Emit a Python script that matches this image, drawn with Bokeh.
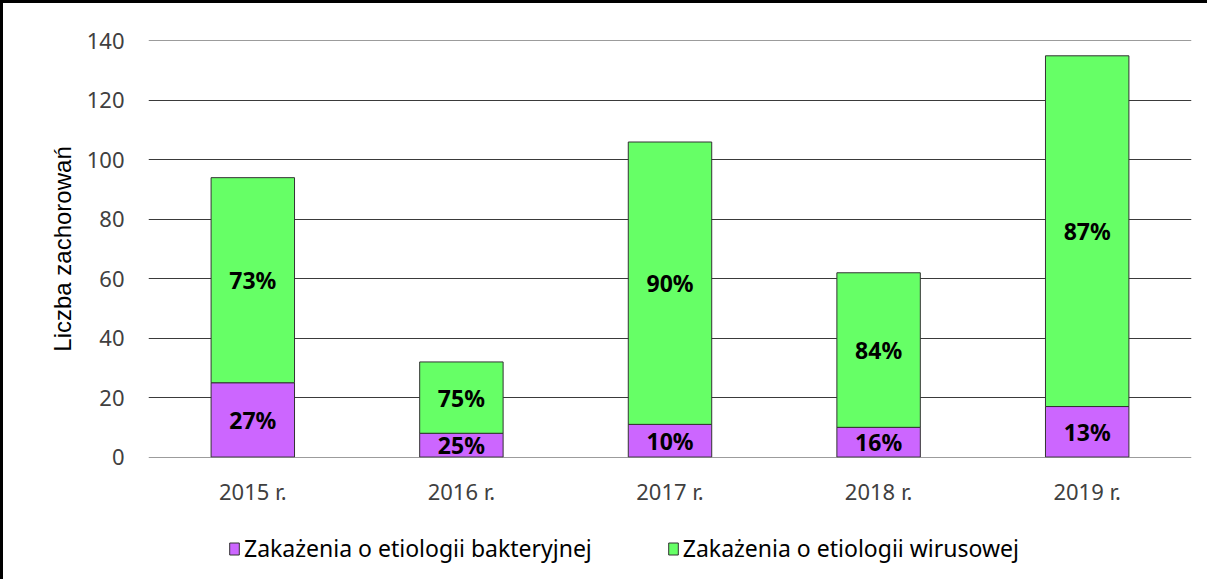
from bokeh.plotting import figure
from bokeh.layouts import column
from bokeh.models import FactorRange, Range1d, FixedTicker, Legend, LegendItem, ColumnDataSource
from bokeh.core.properties import value
from bokeh.embed import file_html
from bokeh.resources import INLINE

# ---- data ----
years = ["2015 r.", "2016 r.", "2017 r.", "2018 r.", "2019 r."]
bakteryjne = [25, 8, 11, 10, 17]
wirusowe = [69, 24, 95, 52, 118]
bakt_pct = ["27%", "25%", "10%", "16%", "13%"]
wir_pct = ["73%", "75%", "90%", "84%", "87%"]
y_ticks = [0, 20, 40, 60, 80, 100, 120, 140]
series_names = ["Zakażenia o etiologii bakteryjnej", "Zakażenia o etiologii wirusowej"]

PURPLE = "#CC66FF"
GREEN = "#66FF66"
OUTLINE = "#333333"

src = ColumnDataSource(dict(year=years, bakt=bakteryjne, wir=wirusowe))
x_rng = FactorRange(*years, range_padding=0)
y_rng = Range1d(-0.15, 140.15)

p = figure(
    x_range=x_rng, y_range=y_rng,
    width=1207, height=517,
    output_backend="svg", toolbar_location=None,
    min_border_left=145, min_border_right=19,
    min_border_top=37, min_border_bottom=63,
)
p.styles = {"border-left": "3px solid black", "border-top": "3px solid black"}
p.outline_line_color = None

rs = p.vbar_stack(["bakt", "wir"], x="year", width=0.4, source=src,
                  color=[PURPLE, GREEN], line_color=OUTLINE, line_width=1)

# labels
b_mid = [b / 2 for b in bakteryjne]
w_mid = [b + w / 2 for b, w in zip(bakteryjne, wirusowe)]
lbl = ColumnDataSource(dict(x=years + years, y=b_mid + w_mid, t=bakt_pct + wir_pct))
p.text(x="x", y="y", text="t", source=lbl, text_align="center", text_baseline="middle",
       text_font=value("Noto Sans"), text_font_style="bold", text_font_size="23px",
       text_color="black")

# axes
p.yaxis.ticker = FixedTicker(ticks=y_ticks)
for ax in (p.xaxis[0], p.yaxis[0]):
    ax.axis_line_color = None
    ax.major_tick_line_color = None
    ax.minor_tick_line_color = None
    ax.major_tick_in = 0
    ax.major_tick_out = 0
    ax.major_label_text_font = "Noto Sans"
    ax.major_label_text_font_size = "22px"
    ax.major_label_text_color = "#404040"
p.yaxis.major_label_standoff = 24
p.xaxis.major_label_standoff = 18
p.yaxis.axis_label = "Liczba zachorowań"
p.yaxis.axis_label_text_font = "Liberation Sans"
p.yaxis.axis_label_text_font_size = "24px"
p.yaxis.axis_label_text_font_style = "normal"
p.yaxis.axis_label_text_color = "#000000"
p.yaxis.axis_label_standoff = 8

p.xgrid.grid_line_color = None
p.ygrid.grid_line_color = "#3a3a3a"
p.ygrid.grid_line_width = 1

# ---- legend strip (separate figure so the legend is not clipped) ----
pl = figure(width=1207, height=62, x_range=x_rng, y_range=y_rng,
            output_backend="svg", toolbar_location=None, min_border=0)
pl.styles = {"border-left": "3px solid black"}
pl.outline_line_color = None
pl.axis.visible = False
pl.grid.visible = False
rl = pl.vbar_stack(["bakt", "wir"], x="year", width=0.4, source=src,
                   color=[PURPLE, GREEN], line_color=OUTLINE, line_width=1)
for r in rl:
    r.visible = False

legend = Legend(
    items=[LegendItem(label=series_names[0], renderers=[rl[0]]),
           LegendItem(label=series_names[1], renderers=[rl[1]])],
    orientation="horizontal", location=(80, 15),
    padding=0, margin=0, spacing=75, label_standoff=4,
    glyph_width=12, glyph_height=15,
    border_line_color=None, background_fill_alpha=0,
    inactive_fill_alpha=0,
    label_text_font="Noto Sans", label_text_font_size="23px", label_text_color="#000000",
)
pl.add_layout(legend, "center")

layout = column(p, pl, spacing=0)
open("out.html", "w").write(file_html(layout, INLINE))
